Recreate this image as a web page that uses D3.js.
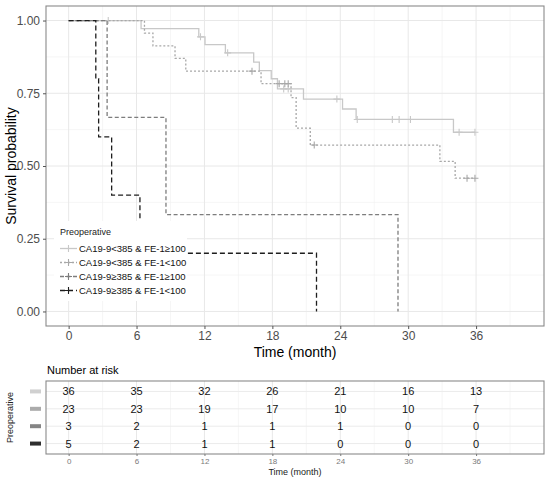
<!DOCTYPE html>
<html><head><meta charset="utf-8">
<script src="https://cdn.jsdelivr.net/npm/d3@7"></script>
<style>body{margin:0;background:#fff}svg{display:block;font-family:"Liberation Sans",Arial,sans-serif}</style>
</head><body>
<svg id="chart" width="550" height="480"></svg>
<script>
// ---------- data ----------
const groupLabels = ["CA19-9<385 & FE-1\u2265100", "CA19-9<385 & FE-1<100", "CA19-9\u2265385 & FE-1\u2265100", "CA19-9\u2265385 & FE-1<100"];
const times1 = [0, 6.4, 11.5, 12.05, 13.85, 16.35, 16.85, 17.9, 18.45, 20.75, 24.2, 25.4, 34.0];
const surv1  = [1, 0.972, 0.944, 0.917, 0.889, 0.857, 0.828, 0.800, 0.765, 0.730, 0.696, 0.660, 0.616];
const cens1  = [3.5, 11.65, 14.05, 19.0, 19.4, 23.7, 25.5, 28.6, 29.2, 30.2, 34.5, 35.9];
const end1 = 35.9;
const times2 = [0, 6.7, 7.45, 9.4, 10.35, 17.0, 19.65, 20.1, 21.35, 32.8, 34.15];
const surv2  = [1, 0.957, 0.913, 0.870, 0.826, 0.783, 0.735, 0.630, 0.572, 0.516, 0.458];
const cens2  = [16.2, 18.6, 19.1, 19.4, 21.7, 35.2, 35.9];
const end2 = 35.9;
const times3 = [0, 3.4, 8.6, 29.1];
const surv3  = [1, 0.667, 0.333, 0];
const cens3  = [];
const end3 = 29.1;
const times4 = [0, 2.4, 2.65, 3.8, 6.3, 21.9];
const surv4  = [1, 0.8, 0.6, 0.4, 0.2, 0];
const cens4  = [];
const end4 = 21.9;
const xTicks = [0, 6, 12, 18, 24, 30, 36];
const yTicks = [0, 0.25, 0.5, 0.75, 1];
const riskTimes = [0, 6, 12, 18, 24, 30, 36];
const risk1 = [36, 35, 32, 26, 21, 16, 13];
const risk2 = [23, 23, 19, 17, 10, 10, 7];
const risk3 = [3, 2, 1, 1, 1, 0, 0];
const risk4 = [5, 2, 1, 1, 0, 0, 0];

// ---------- styles ----------
const colors = ["#c8c8c8", "#a8a8a8", "#7d7d7d", "#1e1e1e"];
const tableColors = ["#d0d0d0", "#ababab", "#858585", "#2e2e2e"];
const dashes = [null, "2,2", "4,2.5", "5,3"];

const groups = [
  {t: times1, s: surv1, c: cens1, end: end1, risk: risk1},
  {t: times2, s: surv2, c: cens2, end: end2, risk: risk2},
  {t: times3, s: surv3, c: cens3, end: end3, risk: risk3},
  {t: times4, s: surv4, c: cens4, end: end4, risk: risk4}
];

const svg = d3.select("#chart");
const P = {l: 46, r: 544, t: 6, b: 326};
const x = d3.scaleLinear().domain([-2, 42]).range([P.l, P.r]);
const y = d3.scaleLinear().domain([-0.05, 1.05]).range([P.b, P.t]);

// panel background & grid
const main = svg.append("g");
main.append("rect").attr("x", P.l).attr("y", P.t).attr("width", P.r - P.l).attr("height", P.b - P.t).attr("fill", "#fff");
const minorX = d3.range(3, 42, 6), minorY = [0.125, 0.375, 0.625, 0.875];
main.selectAll(".gmx").data(minorX).join("line").attr("x1", d => x(d)).attr("x2", d => x(d)).attr("y1", P.t).attr("y2", P.b).attr("stroke", "#f0f0f0").attr("stroke-width", 0.6);
main.selectAll(".gmy").data(minorY).join("line").attr("y1", d => y(d)).attr("y2", d => y(d)).attr("x1", P.l).attr("x2", P.r).attr("stroke", "#f0f0f0").attr("stroke-width", 0.6);
main.selectAll(".gx").data(xTicks).join("line").attr("x1", d => x(d)).attr("x2", d => x(d)).attr("y1", P.t).attr("y2", P.b).attr("stroke", "#e8e8e8").attr("stroke-width", 1);
main.selectAll(".gy").data(yTicks).join("line").attr("y1", d => y(d)).attr("y2", d => y(d)).attr("x1", P.l).attr("x2", P.r).attr("stroke", "#e8e8e8").attr("stroke-width", 1);

// curves
function stepVal(g, t) {
  let v = g.s[0];
  for (let i = 0; i < g.t.length; i++) if (g.t[i] <= t) v = g.s[i];
  return v;
}
const line = d3.line().x(d => x(d[0])).y(d => y(d[1])).curve(d3.curveStepAfter);
groups.forEach((g, i) => {
  const pts = g.t.map((t, j) => [t, g.s[j]]);
  if (g.end > g.t[g.t.length - 1]) pts.push([g.end, g.s[g.s.length - 1]]);
  main.append("path").attr("d", line(pts)).attr("fill", "none").attr("stroke", colors[i])
    .attr("stroke-width", 1.3).attr("stroke-dasharray", dashes[i]);
  g.c.forEach(ct => {
    const cx = x(ct), cy = y(stepVal(g, ct));
    main.append("path").attr("d", `M${cx - 3.5},${cy}H${cx + 3.5}M${cx},${cy - 3.5}V${cy + 3.5}`)
      .attr("stroke", colors[i]).attr("stroke-width", 1.1);
  });
});

// legend
const leg = main.append("g");
leg.append("rect").attr("x", 54).attr("y", 221).attr("width", 133).attr("height", 80).attr("fill", "#fff");
leg.append("text").attr("x", 60).attr("y", 235).attr("font-size", 9).attr("fill", "#222").text("Preoperative");
const legY = [248.5, 262.5, 276.5, 290.5];
groupLabels.forEach((lab, i) => {
  leg.append("line").attr("x1", 60).attr("x2", 77).attr("y1", legY[i]).attr("y2", legY[i]).attr("stroke", colors[i]).attr("stroke-width", 1.3).attr("stroke-dasharray", dashes[i]);
  leg.append("path").attr("d", `M${68.5 - 3.5},${legY[i]}H${68.5 + 3.5}M68.5,${legY[i] - 3.5}V${legY[i] + 3.5}`).attr("stroke", colors[i]).attr("stroke-width", 1.1);
  leg.append("text").attr("x", 79).attr("y", legY[i] + 3.5).attr("font-size", 9.5).attr("fill", "#111").text(lab);
});

// border & axes
main.append("rect").attr("x", P.l).attr("y", P.t).attr("width", P.r - P.l).attr("height", P.b - P.t).attr("fill", "none").attr("stroke", "#8a8a8a").attr("stroke-width", 1.1);
const xAxis = main.append("g").attr("transform", `translate(0,${P.b})`).call(d3.axisBottom(x).tickValues(xTicks).tickSize(3).tickPadding(2));
const yAxis = main.append("g").attr("transform", `translate(${P.l},0)`).call(d3.axisLeft(y).tickValues(yTicks).tickSize(3).tickPadding(3).tickFormat(d3.format(".2f")));
[xAxis, yAxis].forEach(a => {
  a.select(".domain").remove();
  a.selectAll(".tick line").attr("stroke", "#555");
  a.selectAll(".tick text").attr("fill", "#4d4d4d").attr("font-size", 12).attr("font-family", "Liberation Sans, Arial, sans-serif");
});
main.append("text").attr("x", (P.l + P.r) / 2).attr("y", 357).attr("text-anchor", "middle").attr("font-size", 14).attr("fill", "#000").text("Time (month)");
main.append("text").attr("transform", `translate(16,${(P.t + P.b) / 2}) rotate(-90)`).attr("text-anchor", "middle").attr("font-size", 14).attr("fill", "#000").text("Survival probability");

// ---------- risk table ----------
const T = {l: 46, r: 544, t: 381, b: 454};
const xr = d3.scaleLinear().domain([-2, 42]).range([T.l, T.r]);
const yr = d3.scaleLinear().domain([0.4, 4.6]).range([T.t, T.b]);
const tab = svg.append("g");
tab.append("text").attr("x", 47).attr("y", 374).attr("font-size", 11).attr("fill", "#000").text("Number at risk");
tab.append("rect").attr("x", T.l).attr("y", T.t).attr("width", T.r - T.l).attr("height", T.b - T.t).attr("fill", "#fff");
tab.selectAll(".tmx").data(minorX).join("line").attr("x1", d => xr(d)).attr("x2", d => xr(d)).attr("y1", T.t).attr("y2", T.b).attr("stroke", "#f0f0f0").attr("stroke-width", 0.6);
tab.selectAll(".tgx").data(riskTimes).join("line").attr("x1", d => xr(d)).attr("x2", d => xr(d)).attr("y1", T.t).attr("y2", T.b).attr("stroke", "#e8e8e8").attr("stroke-width", 1);
tab.selectAll(".tgy").data([1, 2, 3, 4]).join("line").attr("y1", d => yr(d)).attr("y2", d => yr(d)).attr("x1", T.l).attr("x2", T.r).attr("stroke", "#ebebeb").attr("stroke-width", 1);
groups.forEach((g, i) => {
  tab.selectAll(null).data(riskTimes).join("text")
    .attr("x", d => xr(d)).attr("y", yr(i + 1) + 4).attr("text-anchor", "middle")
    .attr("font-size", 11).attr("fill", "#111").text((d, j) => g.risk[j]);
  tab.append("rect").attr("x", 30).attr("y", yr(i + 1) - 2).attr("width", 11).attr("height", 4).attr("fill", tableColors[i]);
});
tab.append("rect").attr("x", T.l).attr("y", T.t).attr("width", T.r - T.l).attr("height", T.b - T.t).attr("fill", "none").attr("stroke", "#8a8a8a").attr("stroke-width", 1.1);
const xrAxis = tab.append("g").attr("transform", `translate(0,${T.b})`).call(d3.axisBottom(xr).tickValues(riskTimes).tickSize(2).tickPadding(2));
xrAxis.select(".domain").remove();
xrAxis.selectAll(".tick line").attr("stroke", "#777");
xrAxis.selectAll(".tick text").attr("fill", "#7a7a7a").attr("font-size", 8).attr("font-family", "Liberation Sans, Arial, sans-serif");
tab.append("text").attr("x", (T.l + T.r) / 2).attr("y", 475).attr("text-anchor", "middle").attr("font-size", 9).attr("fill", "#222").text("Time (month)");
tab.append("text").attr("transform", `translate(13,${(T.t + T.b) / 2}) rotate(-90)`).attr("text-anchor", "middle").attr("font-size", 9).attr("fill", "#222").text("Preoperative");
</script>
</body></html>
